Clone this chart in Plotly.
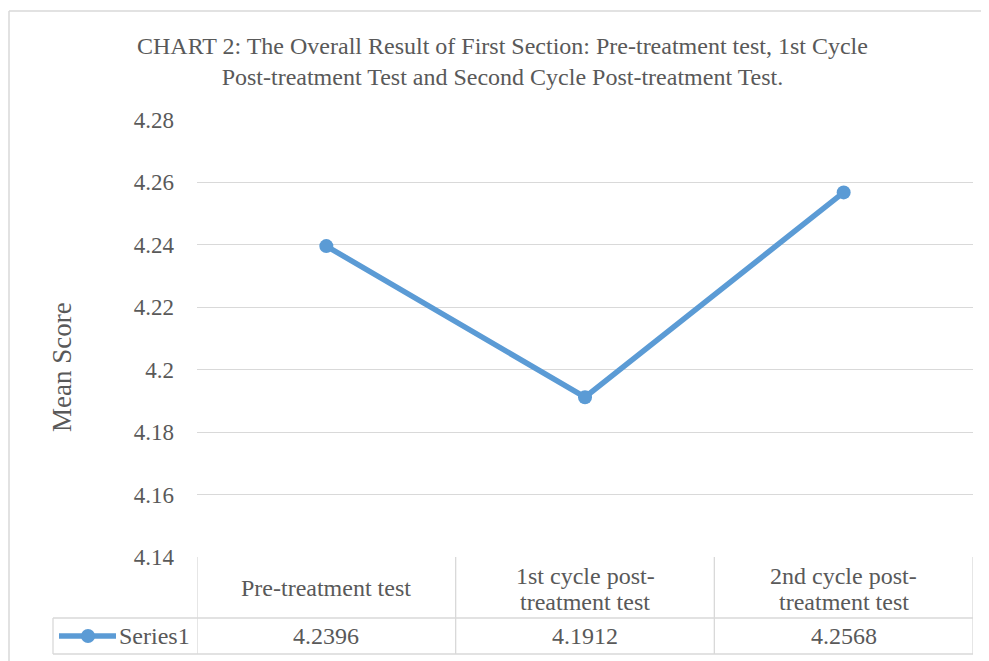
import plotly.graph_objects as go

categories = ["Pre-treatment test", "1st cycle post-treatment test", "2nd cycle post-treatment test"]
category_labels = ["Pre-treatment test", "1st cycle post-<br>treatment test", "2nd cycle post-<br>treatment test"]
values = [4.2396, 4.1912, 4.2568]
series_name = "Series1"
y_ticks = [4.14, 4.16, 4.18, 4.20, 4.22, 4.24, 4.26, 4.28]
y_tick_text = ["4.14", "4.16", "4.18", "4.2", "4.22", "4.24", "4.26", "4.28"]

# page body has an 8px margin; work in screen pixels and convert
OFF = 8
W, H = 989 - OFF, 661 - OFF
PL, PR, PT, PB = 197, 973, 120, 557  # plot area in screen pixels
ML, MR, MT, MB = PL - OFF, W - (PR - OFF), PT - OFF, H - (PB - OFF)
PW, PH = PR - PL, PB - PT

FONT = "Liberation Serif"
TXT = "#595959"
GRID = "#d9d9d9"
BLUE = "#5B9BD5"

def px_x(p):
    return (p - PL) / PW

def px_y(p):
    return 1 - (p - PT) / PH

xs = list(range(len(categories)))

fig = go.Figure()
fig.add_trace(go.Scatter(
    x=xs, y=values, mode="lines+markers", name=series_name,
    line=dict(color=BLUE, width=5.5),
    marker=dict(color=BLUE, size=14),
    showlegend=False, cliponaxis=False,
))

shapes = []
# chart outer border
shapes.append(dict(type="line", xref="paper", yref="paper", x0=px_x(9), x1=px_x(1000), y0=px_y(11), y1=px_y(11), line=dict(color=GRID, width=1.5)))
shapes.append(dict(type="line", xref="paper", yref="paper", x0=px_x(9), x1=px_x(9), y0=px_y(11), y1=px_y(670), line=dict(color=GRID, width=1.5)))

row1_bottom = px_y(618)
row2_bottom = px_y(654)
left_legend = px_x(53)
n = len(categories)
for i in range(n + 1):
    shapes.append(dict(type="line", xref="x", yref="paper", x0=i - 0.5, x1=i - 0.5, y0=0, y1=row2_bottom, line=dict(color=GRID, width=1.3)))
for yy in (row1_bottom, row2_bottom):
    shapes.append(dict(type="line", xref="paper", yref="paper", x0=left_legend, x1=1, y0=yy, y1=yy, line=dict(color=GRID, width=1.3)))
shapes.append(dict(type="line", xref="paper", yref="paper", x0=left_legend, x1=left_legend, y0=row1_bottom, y1=row2_bottom, line=dict(color=GRID, width=1.3)))
# legend key inside the table
ly = px_y(636)
shapes.append(dict(type="line", xref="paper", yref="paper", x0=px_x(59), x1=px_x(116), y0=ly, y1=ly, line=dict(color=BLUE, width=5.5)))
shapes.append(dict(type="circle", xref="paper", yref="paper", x0=px_x(81), x1=px_x(95), y0=px_y(643), y1=px_y(629), fillcolor=BLUE, line=dict(color=BLUE, width=0)))

annotations = []
annotations.append(dict(
    text="CHART 2: The Overall Result of First Section: Pre-treatment test, 1st Cycle<br>Post-treatment Test and Second Cycle Post-treatment Test.",
    xref="paper", yref="paper", x=px_x(502), y=px_y(62), xanchor="center", yanchor="middle",
    showarrow=False, font=dict(family=FONT, size=24, color=TXT), align="center"))
annotations.append(dict(
    text="Mean Score", xref="paper", yref="paper", x=px_x(62), y=px_y(367),
    xanchor="center", yanchor="middle", textangle=-90, showarrow=False,
    font=dict(family=FONT, size=27, color=TXT)))
for i, lab in enumerate(category_labels):
    lines = lab.split("<br>")
    if len(lines) == 1:
        ys = [588]
    else:
        ys = [576, 602]
    for line_text, yy in zip(lines, ys):
        annotations.append(dict(text=line_text, xref="x", yref="paper", x=i, y=px_y(yy),
                                xanchor="center", yanchor="middle", showarrow=False,
                                font=dict(family=FONT, size=24, color=TXT)))
for i, v in enumerate(values):
    annotations.append(dict(text=f"{v:.4f}", xref="x", yref="paper", x=i, y=px_y(636),
                            xanchor="center", yanchor="middle", showarrow=False,
                            font=dict(family=FONT, size=24, color=TXT)))
annotations.append(dict(text=series_name, xref="paper", yref="paper", x=px_x(117), y=px_y(636),
                        xanchor="left", yanchor="middle", showarrow=False,
                        font=dict(family=FONT, size=24, color=TXT)))

fig.update_layout(
    width=W, height=H,
    margin=dict(l=ML, r=MR, t=MT, b=MB, autoexpand=False),
    paper_bgcolor="white", plot_bgcolor="white",
    shapes=shapes, annotations=annotations,
    xaxis=dict(range=[-0.5, n - 0.5], showticklabels=False, showgrid=False, zeroline=False, showline=False, fixedrange=True),
    yaxis=dict(range=[4.14, 4.28], tickvals=y_ticks, ticktext=y_tick_text, showgrid=True, gridcolor=GRID, gridwidth=1.3,
               zeroline=False, showline=False, ticks="", ticklabelstandoff=22,
               tickfont=dict(family=FONT, size=23, color=TXT)),
)

fig.write_html("out.html")
